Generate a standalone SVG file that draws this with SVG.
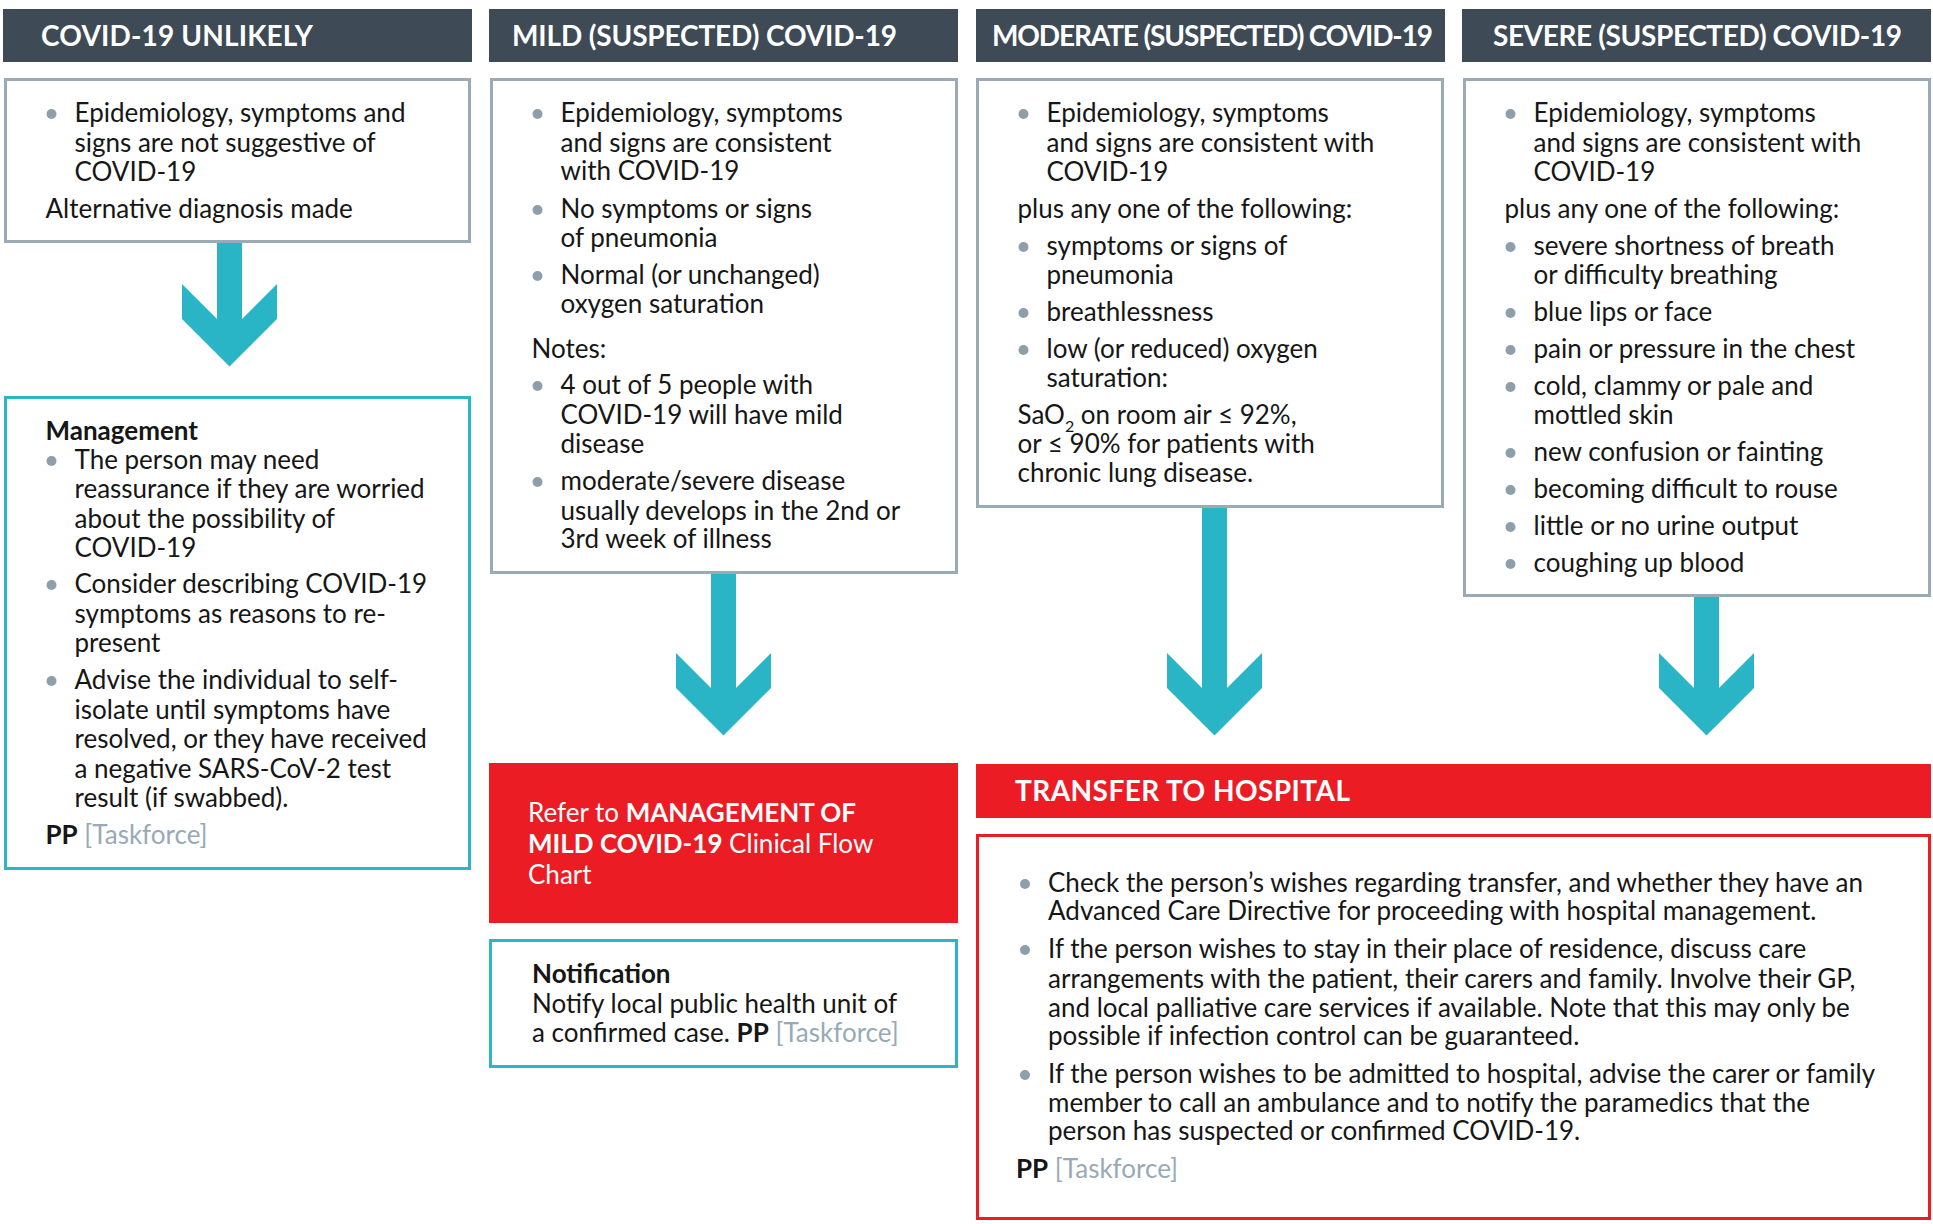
<svg xmlns="http://www.w3.org/2000/svg" width="1933" height="1224" viewBox="0 0 1933 1224">
<style>
text{font-family:Lato,"Noto Sans","Liberation Sans",sans-serif;font-size:26px;fill:#161616}
.hd{font-weight:700;font-size:28px;fill:#fff}
.hdbar{fill:#3e4a56}
.gbox{fill:#fff;stroke:#9aabb6;stroke-width:3}
.tbox{fill:#fff;stroke:#2bb5c8;stroke-width:3}
.rbox{fill:#fff;stroke:#ec1c24;stroke-width:3}
.red{fill:#ec1c24}
.dot{fill:#8d9fab}
.b{font-weight:700}
.tf{fill:#98aab6}
.w{fill:#fff}
.arrow{fill:#2ab5c7}
</style>
<rect width="1933" height="1224" fill="#fff"/>

<g id="connectors">
<polygon class="arrow" points="217,243 217,319 182,284 182,319 229.5,366.5 277,319 277,284 242,319 242,243"/>
<polygon class="arrow" points="711,574 711,688 676,653 676,688 723.5,735.5 771,688 771,653 736,688 736,574"/>
<polygon class="arrow" points="1202,508 1202,688 1167,653 1167,688 1214.5,735.5 1262,688 1262,653 1227,688 1227,508"/>
<polygon class="arrow" points="1694,597 1694,688 1659,653 1659,688 1706.5,735.5 1754,688 1754,653 1719,688 1719,597"/>
</g>

<g id="hdr-unlikely">
<rect class="hdbar" x="3" y="9" width="469" height="53"/>
<text class="hd" x="41" y="46" textLength="272" lengthAdjust="spacing">COVID-19 UNLIKELY</text>
</g>
<g id="hdr-mild">
<rect class="hdbar" x="489" y="9" width="469" height="53"/>
<text class="hd" x="512" y="46" textLength="385" lengthAdjust="spacing">MILD (SUSPECTED) COVID-19</text>
</g>
<g id="hdr-moderate">
<rect class="hdbar" x="976" y="9" width="469" height="53"/>
<text class="hd" x="992" y="46" textLength="441" lengthAdjust="spacing">MODERATE (SUSPECTED) COVID-19</text>
</g>
<g id="hdr-severe">
<rect class="hdbar" x="1462" y="9" width="469" height="53"/>
<text class="hd" x="1493" y="46" textLength="409" lengthAdjust="spacing">SEVERE (SUSPECTED) COVID-19</text>
</g>

<g id="box-unlikely">
<rect class="gbox" x="5.5" y="79.5" width="464" height="162"/>
<circle class="dot" cx="51.5" cy="114" r="5"/>
<text x="74.5" y="122">Epidemiology, symptoms and</text>
<text x="74.5" y="152">signs are not suggestive of</text>
<text x="74.5" y="181">COVID-19</text>
<text x="45.5" y="218">Alternative diagnosis made</text>
</g>

<g id="box-management">
<rect class="tbox" x="5.5" y="397.5" width="464" height="471"/>
<text class="b" x="45.5" y="440">Management</text>
<circle class="dot" cx="51.5" cy="461" r="5"/>
<text x="74.5" y="469">The person may need</text>
<text x="74.5" y="498">reassurance if they are worried</text>
<text x="74.5" y="528">about the possibility of</text>
<text x="74.5" y="557">COVID-19</text>
<circle class="dot" cx="51.5" cy="585" r="5"/>
<text x="74.5" y="593">Consider describing COVID-19</text>
<text x="74.5" y="623">symptoms as reasons to re-</text>
<text x="74.5" y="652">present</text>
<circle class="dot" cx="51.5" cy="681" r="5"/>
<text x="74.5" y="689">Advise the individual to self-</text>
<text x="74.5" y="719">isolate until symptoms have</text>
<text x="74.5" y="748">resolved, or they have received</text>
<text x="74.5" y="778">a negative SARS-CoV-2 test</text>
<text x="74.5" y="807">result (if swabbed).</text>
<text x="45.5" y="844"><tspan class="b">PP</tspan> <tspan class="tf">[Taskforce]</tspan></text>
</g>

<g id="box-mild">
<rect class="gbox" x="491.5" y="79.5" width="465" height="493"/>
<circle class="dot" cx="537.5" cy="114" r="5"/>
<text x="560.5" y="122">Epidemiology, symptoms</text>
<text x="560.5" y="152">and signs are consistent</text>
<text x="560.5" y="180">with COVID-19</text>
<circle class="dot" cx="537.5" cy="210" r="5"/>
<text x="560.5" y="218">No symptoms or signs</text>
<text x="560.5" y="247">of pneumonia</text>
<circle class="dot" cx="537.5" cy="276" r="5"/>
<text x="560.5" y="284">Normal (or unchanged)</text>
<text x="560.5" y="313">oxygen saturation</text>
<text x="531.5" y="358">Notes:</text>
<circle class="dot" cx="537.5" cy="386" r="5"/>
<text x="560.5" y="394">4 out of 5 people with</text>
<text x="560.5" y="424">COVID-19 will have mild</text>
<text x="560.5" y="453">disease</text>
<circle class="dot" cx="537.5" cy="482" r="5"/>
<text x="560.5" y="490">moderate/severe disease</text>
<text x="560.5" y="520">usually develops in the 2nd or</text>
<text x="560.5" y="548">3rd week of illness</text>
</g>

<g id="box-moderate">
<rect class="gbox" x="977.5" y="79.5" width="465" height="427"/>
<circle class="dot" cx="1023.5" cy="114" r="5"/>
<text x="1046.5" y="122">Epidemiology, symptoms</text>
<text x="1046.5" y="152">and signs are consistent with</text>
<text x="1046.5" y="181">COVID-19</text>
<text x="1017.5" y="218">plus any one of the following:</text>
<circle class="dot" cx="1023.5" cy="247" r="5"/>
<text x="1046.5" y="255">symptoms or signs of</text>
<text x="1046.5" y="284">pneumonia</text>
<circle class="dot" cx="1023.5" cy="313" r="5"/>
<text x="1046.5" y="321">breathlessness</text>
<circle class="dot" cx="1023.5" cy="350" r="5"/>
<text x="1046.5" y="358">low (or reduced) oxygen</text>
<text x="1046.5" y="387">saturation:</text>
<text x="1017.5" y="424">SaO<tspan font-size="16" dy="8">2</tspan><tspan dy="-8"> on room air ≤ 92%,</tspan></text>
<text x="1017.5" y="453">or ≤ 90% for patients with</text>
<text x="1017.5" y="482">chronic lung disease.</text>
</g>

<g id="box-severe">
<rect class="gbox" x="1464.5" y="79.5" width="465" height="516"/>
<circle class="dot" cx="1510.5" cy="114" r="5"/>
<text x="1533.5" y="122">Epidemiology, symptoms</text>
<text x="1533.5" y="152">and signs are consistent with</text>
<text x="1533.5" y="181">COVID-19</text>
<text x="1504.5" y="218">plus any one of the following:</text>
<circle class="dot" cx="1510.5" cy="247" r="5"/>
<text x="1533.5" y="255">severe shortness of breath</text>
<text x="1533.5" y="284">or difficulty breathing</text>
<circle class="dot" cx="1510.5" cy="313" r="5"/>
<text x="1533.5" y="321">blue lips or face</text>
<circle class="dot" cx="1510.5" cy="350" r="5"/>
<text x="1533.5" y="358">pain or pressure in the chest</text>
<circle class="dot" cx="1510.5" cy="387" r="5"/>
<text x="1533.5" y="395">cold, clammy or pale and</text>
<text x="1533.5" y="424">mottled skin</text>
<circle class="dot" cx="1510.5" cy="453" r="5"/>
<text x="1533.5" y="461">new confusion or fainting</text>
<circle class="dot" cx="1510.5" cy="490" r="5"/>
<text x="1533.5" y="498">becoming difficult to rouse</text>
<circle class="dot" cx="1510.5" cy="527" r="5"/>
<text x="1533.5" y="535">little or no urine output</text>
<circle class="dot" cx="1510.5" cy="564" r="5"/>
<text x="1533.5" y="572">coughing up blood</text>
</g>

<g id="box-refer">
<rect class="red" x="489" y="763" width="469" height="160"/>
<text class="w" x="528" y="822">Refer to <tspan class="b w">MANAGEMENT OF</tspan></text>
<text class="w" x="528" y="853"><tspan class="b w">MILD COVID-19</tspan> Clinical Flow</text>
<text class="w" x="528" y="884">Chart</text>
</g>

<g id="box-notification">
<rect class="tbox" x="490.5" y="940.5" width="466" height="126"/>
<text class="b" x="532" y="983">Notification</text>
<text x="532" y="1013">Notify local public health unit of</text>
<text x="532" y="1042">a confirmed case. <tspan class="b">PP</tspan> <tspan class="tf">[Taskforce]</tspan></text>
</g>

<g id="hdr-transfer">
<rect class="red" x="976" y="764" width="955" height="54"/>
<text class="hd" x="1015" y="801" textLength="335" lengthAdjust="spacing">TRANSFER TO HOSPITAL</text>
</g>

<g id="box-transfer">
<rect class="rbox" x="977.5" y="835.5" width="952" height="383"/>
<circle class="dot" cx="1025" cy="884" r="5"/>
<text x="1048" y="892">Check the person’s wishes regarding transfer, and whether they have an</text>
<text x="1048" y="920">Advanced Care Directive for proceeding with hospital management.</text>
<circle class="dot" cx="1025" cy="950" r="5"/>
<text x="1048" y="958">If the person wishes to stay in their place of residence, discuss care</text>
<text x="1048" y="988">arrangements with the patient, their carers and family. Involve their GP,</text>
<text x="1048" y="1017">and local palliative care services if available. Note that this may only be</text>
<text x="1048" y="1045">possible if infection control can be guaranteed.</text>
<circle class="dot" cx="1025" cy="1075" r="5"/>
<text x="1048" y="1083">If the person wishes to be admitted to hospital, advise the carer or family</text>
<text x="1048" y="1112">member to call an ambulance and to notify the paramedics that the</text>
<text x="1048" y="1140">person has suspected or confirmed COVID-19.</text>
<text x="1016" y="1178"><tspan class="b">PP</tspan> <tspan class="tf">[Taskforce]</tspan></text>
</g>
</svg>
